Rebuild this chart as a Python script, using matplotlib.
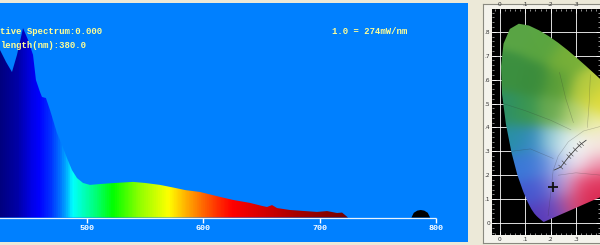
import numpy as np
import matplotlib
matplotlib.use("Agg")
import matplotlib.pyplot as plt
from matplotlib.colors import LinearSegmentedColormap, to_rgb
from matplotlib.patches import Polygon

# spectrum (nm, relative intensity)
wavelength = [415, 420.9, 425.2, 430.4, 435.5, 439.8, 445.0, 449.3, 453.6, 456.1, 459.6,
              461.3, 464.7, 468.2, 474.2, 478.5, 482.8, 487.1, 491.4, 496.6, 502.6,
              511.2, 524.1, 539.6, 549.9, 562.8, 575.7, 584.3, 597.2, 614.4, 625.5,
              640.2, 650.5, 654.8, 659.1, 663.4, 674.5, 687.4, 697.8, 706.4, 715.0,
              719.3, 724.4, 779.0, 781.0, 784.0, 787.0, 790.0, 793.0, 795.0, 830.0]
intensity = [0.90, 0.837, 0.781, 0.725, 0.678, 0.758, 0.883, 0.828, 0.758, 0.641, 0.585,
             0.562, 0.557, 0.501, 0.394, 0.338, 0.277, 0.221, 0.184, 0.161, 0.152,
             0.156, 0.161, 0.166, 0.161, 0.152, 0.138, 0.128, 0.119, 0.096, 0.082,
             0.068, 0.054, 0.049, 0.058, 0.044, 0.035, 0.030, 0.026, 0.030, 0.021,
             0.023, 0.0, 0.0, 0.022, 0.032, 0.035, 0.032, 0.022, 0.0, 0.0]
tick_nm = [500, 600, 700, 800]

# colour of the fill along the wavelength axis
color_nm = [380, 425, 440, 452, 458, 468, 476, 482, 487, 496, 508, 522, 545, 570,
            585, 598, 612, 625, 650, 680, 720, 760, 775, 830]
color_hex = ['#000050', '#000080', '#0000a8', '#0000e8', '#0000ff', '#0030ff', '#0070ff',
             '#00b0ff', '#00ffff', '#00ffc0', '#00ff70', '#00ff00', '#90ff00', '#ffff00',
             '#ffb000', '#ff7000', '#ff3000', '#ff0000', '#d80000', '#a80000', '#780000',
             '#300000', '#000000', '#000000']

# CIE 1931 spectral locus (x, y)
locus_x = [0.1741, 0.1740, 0.1738, 0.1736, 0.1733, 0.1730, 0.1726, 0.1721, 0.1714, 0.1703,
           0.1689, 0.1669, 0.1644, 0.1611, 0.1566, 0.1510, 0.1440, 0.1355, 0.1241, 0.1096,
           0.0913, 0.0687, 0.0454, 0.0235, 0.0082, 0.0039, 0.0139, 0.0389, 0.0743, 0.1142,
           0.1547, 0.1929, 0.2296, 0.2658, 0.3016, 0.3373, 0.3731, 0.4087, 0.4441, 0.4788,
           0.5125, 0.5752, 0.6270, 0.6915, 0.7190, 0.7347]
locus_y = [0.0050, 0.0050, 0.0049, 0.0049, 0.0048, 0.0048, 0.0048, 0.0048, 0.0051, 0.0058,
           0.0069, 0.0086, 0.0109, 0.0138, 0.0177, 0.0227, 0.0297, 0.0399, 0.0578, 0.0868,
           0.1327, 0.2007, 0.2950, 0.4127, 0.5384, 0.6548, 0.7502, 0.8120, 0.8338, 0.8262,
           0.8059, 0.7816, 0.7543, 0.7243, 0.6923, 0.6589, 0.6245, 0.5896, 0.5547, 0.5202,
           0.4866, 0.4242, 0.3725, 0.3083, 0.2809, 0.2653]
planck_x = [0.215, 0.240, 0.253, 0.272, 0.281, 0.297, 0.313, 0.322, 0.340]
planck_y = [0.222, 0.234, 0.252, 0.278, 0.288, 0.307, 0.324, 0.332, 0.346]
point_xy = (0.209, 0.151)
cie_ticks_x = [0.0, 0.1, 0.2, 0.3]
cie_labels_x = ['0', '.1', '.2', '.3']
cie_ticks_y = [0.0, 0.1, 0.2, 0.3, 0.4, 0.5, 0.6, 0.7, 0.8]
cie_labels_y = ['0', '.1', '.2', '.3', '.4', '.5', '.6', '.7', '.8']

# colour-name boundaries printed on the chart
borders = [
    [(0.012, 0.50), (0.10, 0.47), (0.20, 0.43), (0.28, 0.39)],
    [(0.357, 0.62), (0.352, 0.50), (0.345, 0.40)],
    [(0.235, 0.63), (0.26, 0.52), (0.29, 0.42)],
    [(0.21, 0.22), (0.23, 0.28), (0.27, 0.34), (0.33, 0.385), (0.40, 0.405)],
    [(0.21, 0.22), (0.20, 0.12), (0.19, 0.03)],
    [(0.23, 0.20), (0.30, 0.21), (0.40, 0.20)],
    [(0.045, 0.30), (0.12, 0.31), (0.21, 0.27)],
]

# look of the printed chromaticity chart: colour at a few (x, y) spots
paint = [(0.08, 0.80, '#5aa545'), (0.17, 0.74, '#5aa540'), (0.26, 0.68, '#78b038'),
         (0.04, 0.62, '#3c9040'), (0.13, 0.60, '#3a8c3c'), (0.23, 0.58, '#5a9e38'),
         (0.33, 0.56, '#b8cc40'), (0.39, 0.50, '#e0dc38'), (0.02, 0.47, '#2e9066'),
         (0.10, 0.46, '#3a9650'), (0.20, 0.46, '#6aaa50'), (0.29, 0.44, '#b0d070'),
         (0.36, 0.41, '#f0f0b0'), (0.05, 0.35, '#2890a8'), (0.12, 0.34, '#3488c0'),
         (0.20, 0.34, '#90c8d8'), (0.26, 0.33, '#dceef0'), (0.31, 0.32, '#f6f6f4'),
         (0.38, 0.33, '#f4e8e0'), (0.10, 0.24, '#3a78d8'), (0.17, 0.24, '#5080d8'),
         (0.23, 0.24, '#b0c0ec'), (0.30, 0.24, '#f0e4f0'), (0.38, 0.24, '#f0a0b8'),
         (0.14, 0.13, '#4458d0'), (0.20, 0.15, '#6068d4'), (0.25, 0.16, '#d8b0dc'),
         (0.32, 0.16, '#e8406a'), (0.39, 0.17, '#e03058'), (0.17, 0.04, '#5438b8'),
         (0.22, 0.06, '#7450c0'), (0.28, 0.08, '#d84870'), (0.36, 0.10, '#d82850')]

fig = plt.figure(figsize=(6, 2.45), dpi=100, facecolor='#ece9d8')

# ---- spectrum panel ----
ax = fig.add_axes([0, 3 / 245, 468 / 600, 239 / 245])
ax.set_facecolor('#0080ff')
ax.set_xlim(425.2, 827.6)
ax.set_ylim(-0.1142, 1.0)
for s in ax.spines.values():
    s.set_visible(False)
ax.set_xticks([])
ax.set_yticks([])

ax.hlines(0, 380, 800, color='#e8f4ff', lw=0.9, zorder=1)
stops = [(n - 380) / 450 for n in color_nm]
spec_cmap = LinearSegmentedColormap.from_list('spec', list(zip(stops, color_hex)))
grad = np.linspace(380, 830, 900)[None, :]
im = ax.imshow(grad, extent=(380, 830, 0, 1.0), aspect='auto', cmap=spec_cmap,
               vmin=380, vmax=830, zorder=2)
verts = [(wavelength[0], 0)] + list(zip(wavelength, intensity)) + [(wavelength[-1], 0)]
shape = Polygon(verts, closed=True, transform=ax.transData)
im.set_clip_path(shape)

ax.vlines(tick_nm, -0.026, 0, color='white', lw=1, zorder=3)
for t in tick_nm:
    ax.text(t, -0.05, str(t), color='white', fontsize=6, family='Liberation Mono',
            fontweight='bold', ha='center', va='center')

# the readouts are cut by the left edge of the screenshot
txt = dict(color='#ffff96', fontsize=6.4, family='Liberation Mono', fontweight='bold',
           va='center', ha='left')
ax.text(425.5, 0.869, 'tive Spectrum:0.000', **txt)
ax.text(425.5, 0.80, 'length(nm):380.0', **txt)
ax.text(710.7, 0.865, '1.0 = 274mW/nm', **txt)

# ---- CIE chart panel ----
frame = fig.add_axes([483 / 600, 2 / 245, 0.2, 239 / 245])
frame.set_facecolor('#f4f3ec')
frame.set_xticks([])
frame.set_yticks([])
for s in frame.spines.values():
    s.set_color('#8a8a80')
    s.set_linewidth(0.8)

cx = fig.add_axes([492 / 600, 10 / 245, 108 / 600, 226 / 245])
cx.set_facecolor('black')
cx.set_xlim(-0.0316, 0.395)
cx.set_ylim(-0.0502, 0.8954)
for s in cx.spines.values():
    s.set_visible(False)
cx.set_xticks(cie_ticks_x, cie_labels_x)
cx.set_yticks(cie_ticks_y, cie_labels_y)
cx.set_xticks(np.arange(-0.02, 0.4, 0.02), minor=True)
cx.set_yticks(np.arange(-0.04, 0.9, 0.02), minor=True)
cx.tick_params(which='both', direction='in', color='white', labelcolor='#333333',
               labelsize=4.2, pad=1.5, top=True, right=True, labeltop=True)
cx.tick_params(which='major', length=3, width=0.6)
cx.tick_params(which='minor', length=1.5, width=0.4)
cx.grid(True, which='major', color='white', lw=0.6)
cx.set_axisbelow(True)

xs = np.linspace(-0.04, 0.42, 230)
ys = np.linspace(-0.06, 0.9, 480)
gx, gy = np.meshgrid(xs, ys)
px = np.array([p[0] for p in paint])
py = np.array([p[1] for p in paint])
pc = np.array([to_rgb(p[2]) for p in paint])
d2 = (gx[..., None] - px) ** 2 + (gy[..., None] - py) ** 2
w = np.exp(-d2 / 0.06 ** 2) + 1e-12
rgb = (w[..., :, None] * pc).sum(axis=-2) / w.sum(axis=-1)[..., None]
chroma = cx.imshow(np.clip(rgb, 0, 1), extent=(xs[0], xs[-1], ys[0], ys[-1]), origin='lower',
                   aspect='auto', interpolation='bilinear', zorder=2)
horse = Polygon(list(zip(locus_x, locus_y)), closed=True, transform=cx.transData)
chroma.set_clip_path(horse)

for b in borders:
    cx.plot([p[0] for p in b], [p[1] for p in b], color='#303030', lw=0.4, alpha=0.3, zorder=3)
cx.plot(planck_x, planck_y, color='#404040', lw=0.6, zorder=3)
for x0, y0 in zip(planck_x[1:-1], planck_y[1:-1]):
    cx.plot([x0 - 0.008, x0 + 0.008], [y0 + 0.008, y0 - 0.008], color='#404040', lw=0.4, zorder=3)
cx.plot(point_xy[0], point_xy[1], marker='+', color='#101010', ms=7, mew=1.3, zorder=4)

plt.savefig('out.png', dpi=100, facecolor=fig.get_facecolor())
